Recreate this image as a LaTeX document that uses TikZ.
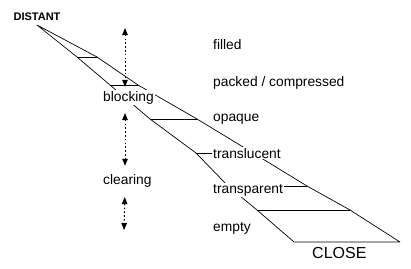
\documentclass[tikz,border=0pt]{standalone}
\usepackage{fontspec}
\setmainfont{Liberation Sans}
\usetikzlibrary{arrows.meta,backgrounds}

\begin{document}
\begin{tikzpicture}[x=1pt, y=-1pt,
  lbl/.style={anchor=base west, inner sep=1pt, fill=white, font=\fontsize{13.8}{16}\selectfont},
  edge/.style={line width=0.7pt, line join=round},
  twoway/.style={{Triangle[width=5.5pt,length=7pt]}-{Triangle[width=5.5pt,length=7pt]}, line width=1pt, dash pattern=on 1.6pt off 2.2pt}
]
\useasboundingbox (0,0) rectangle (411,268);
\node[anchor=base, inner sep=1pt, font=\fontsize{11}{13}\selectfont\bfseries] (distant) at (37,20) {DISTANT};
\node[anchor=base west, inner sep=1pt, font=\fontsize{16}{18}\selectfont] (close) at (311,258) {CLOSE};
\node[lbl] (filled) at (212,49) {filled};
\node[lbl] (packed) at (212,86) {packed / compressed};
\node[lbl] (opaque) at (212,121) {opaque};
\node[lbl] (transl) at (212,158) {translucent};
\node[lbl] (transp) at (212,193) {transparent};
\node[lbl] (empty) at (212,231) {empty};
\node[lbl] (blocking) at (102,101) {blocking};
\node[lbl] (clearing) at (102,184) {clearing};

\coordinate (apex) at (37,25);
\coordinate (l1) at (77,57); \coordinate (l2) at (110,85); \coordinate (l3) at (150,119); \coordinate (l4) at (196,153);
\coordinate (l5) at (228,186); \coordinate (l6) at (257,210); \coordinate (bl) at (294,242);
\coordinate (r1) at (97,57); \coordinate (r2) at (138,85); \coordinate (r3) at (197,119); \coordinate (r4) at (253,153);
\coordinate (r5) at (307,186); \coordinate (r6) at (350,210); \coordinate (br) at (400,242);

\begin{scope}[on background layer]
\draw[edge] (apex) -- (l1) -- (l2) -- (l3) -- (l4) -- (l5) -- (l6) -- (bl) -- (br) -- (r6) -- (r5) -- (r4) -- (r3) -- (r2) -- (r1) -- cycle;
\draw[edge] (l1) -- (r1); \draw[edge] (l2) -- (r2); \draw[edge] (l3) -- (r3);
\draw[edge] (l4) -- (r4); \draw[edge] (l5) -- (r5); \draw[edge] (l6) -- (r6);
\end{scope}

\coordinate (col) at (125,0);
\coordinate (uptip) at (125,28);
\coordinate (downtip) at (124,230);
\draw[twoway, shorten >=3pt] (uptip) -- (col |- blocking.north);
\draw[twoway, shorten <=8pt, shorten >=7pt] (col |- blocking.south) -- (col |- clearing.north);
\draw[twoway, shorten <=9pt] (col |- clearing.south) -- (downtip);
\end{tikzpicture}
\end{document}
